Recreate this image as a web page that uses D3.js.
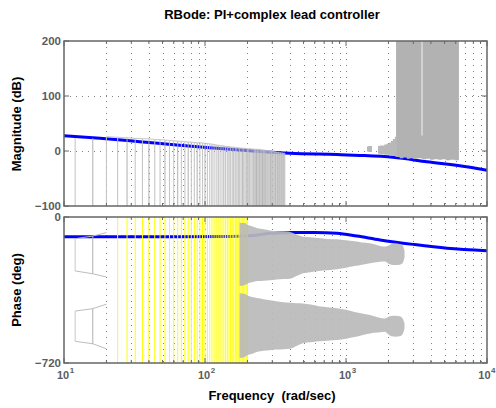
<!DOCTYPE html>
<html><head><meta charset="utf-8">
<script src="https://cdn.jsdelivr.net/npm/d3@7"></script>
<style>
body{margin:0;background:#fff}
svg{display:block}
text{font-family:"Liberation Sans",Arial,Helvetica,sans-serif;font-weight:bold}
</style>
</head><body>
<svg id="chart" width="496" height="408"></svg>
<script>
// ---------------- data ----------------
const titleText = "RBode: PI+complex lead controller";
const magTicks = [-100, 0, 100, 200];
const magGrid = [0, 100];
const phaseTicks = [-720, 0];
const decadeTicks = [10, 100, 1000, 10000];
const decadeExp = ["1", "2", "3", "4"];

// blue nominal response
const magFreq = [10, 18, 34.5, 63, 108, 208, 401, 863, 1256, 2154, 3749, 7570, 10000];
const magDb   = [27.8, 23.1, 16.9, 10.9, 6.0, 0.5, -4.2, -6.5, -8.0, -11.5, -19.5, -29.6, -35];
const phFreq  = [10, 66, 150, 200, 250, 289, 401, 600, 863, 1197, 1742, 2985, 5200, 10000];
const phDeg   = [-98, -97, -96, -93, -86, -80, -77, -76, -80, -94, -113, -135, -154, -166];

// grey (aliased) magnitude lines
const lineFreq = [12,16,20,24,28,32,36,40,44,48,52,56,60,64,68,72,76,80,84,88,92,96,100,104,108,112,116,120,124,128,132,136,140,144,148,152,156,160,164,168,172,176,180,184,188,192,196,200,204,208,212,216,220,224,228,232,236,240,244,248,252,256,260,264,268,272,276,280,284,288,292,296,300,304,308,312,316,320,324,328,332,336,340,344,348,352,356,360,364,368];
const lineTop  = [23,23,26,25,24,23,22.5,22,21,20.5,20,19,18.5,18,17.5,17,16.5,16,15.5,15,15,14.5,14,13.5,13,12.5,12,11,10.5,10,9.5,9,8.5,8,8,7.5,7,7,6.5,6,6,5.5,5.5,5,5,5,4.5,4.5,4,4,4,3.5,3.5,3.5,3,3,3,3,3,2.5,2.5,2,2,1.5,1.5,1,1,0.5,0.5,0,0,-0.5,-0.5,-1,-1,-1.5,-1.5,-2,-2,-2.5,-2.5,-3,-3,-3,-3.5,-3.5,-3.5,-4,-4,-4];

// high-frequency grey block (magnitude)
const hfFreq   = [2265,2400,2550,2700,2850,3000,3200,3460,3700,3950,4200,4500,4800,5100,5500,5900,6324];
const hfBottom = [-11,-13,-12,-14,-13,-14,-13,-15,-14,-16,-15,-16,-15,-17,-16,-17,-17];
const hfRagFreq = [1409,1440,1480,1528,1600,1687,1740,1800,1870,1940,2010,2080,2150,2220,2265];
const hfRagTop  = [8,9,9,8,null,9,10,10,12,13,15,18,22,26,27];
const hfRagBot  = [-1,-2,-2,-1,null,-5,-6,-6,-7,-7,-8,-8,-9,-10,-11];
const whiteFreq = [3460];
const whiteBottom = [28];

// grey phase outlines at low frequency
const trapFreq  = [12, 16, 20];
const trapUpTop = [-107, -94, -77];
const trapUpBot = [-266, -280, -296];
const trapLoTop = [-464, -452, -430];
const trapLoBot = [-613, -625, -650];

// grey phase bands
const bandFreq  = [176,192,199,215,235,260,289,320,360,401,450,495,560,640,740,863,1000,1150,1300,1479,1700,1890,2000,2100,2250,2400,2520,2600];
const upTop = [-28,-30,-38,-45,-55,-60,-66,-70,-72,-74,-88,-97,-100,-104,-108,-110,-115,-120,-126,-130,-140,-146,-140,-133,-131,-133,-140,-165];
const upBot = [-340,-335,-329,-322,-316,-314,-312,-308,-306,-304,-290,-278,-272,-266,-262,-258,-250,-242,-235,-228,-222,-220,-230,-235,-237,-235,-228,-200];
const loTop = [-376,-380,-386,-395,-400,-405,-411,-415,-420,-423,-425,-426,-432,-440,-445,-450,-458,-468,-476,-483,-495,-500,-492,-488,-487,-490,-500,-525];
const loBot = [-695,-690,-682,-675,-665,-660,-657,-654,-652,-650,-635,-623,-618,-613,-610,-607,-600,-592,-583,-574,-570,-566,-580,-588,-590,-588,-578,-550];

// ---------------- chart ----------------
const svg = d3.select("#chart");
const W = 496;
const L = 64, R = 487;
const magT = 41, magB = 206, phT = 217, phB = 363;
const x = d3.scaleLog().domain([10, 10000]).range([L, R]);
const yM = d3.scaleLinear().domain([-100, 200]).range([magB, magT]);
const yP = d3.scaleLinear().domain([-720, 0]).range([phB, phT]);

const defs = svg.append("defs");
defs.append("clipPath").attr("id", "clipM").append("rect")
  .attr("x", L).attr("y", magT).attr("width", R - L).attr("height", magB - magT);
defs.append("clipPath").attr("id", "clipP").append("rect")
  .attr("x", L).attr("y", phT).attr("width", R - L).attr("height", phB - phT);

const allTicks = x.ticks();
const gridCol = "#808080";
const axisCol = "#666";
const labCol = "#5c5c5c";

function panel(yScale, top, bottom, hGrid) {
  const g = svg.append("g");
  g.selectAll("line.vg").data(allTicks.filter(t => t > 10 && t < 10000)).join("line")
    .attr("x1", d => Math.round(x(d)) + 0.5).attr("x2", d => Math.round(x(d)) + 0.5)
    .attr("y1", top).attr("y2", bottom)
    .attr("stroke", gridCol).attr("stroke-width", 1).attr("stroke-dasharray", "1,5");
  g.selectAll("line.hg").data(hGrid).join("line")
    .attr("x1", L).attr("x2", R)
    .attr("y1", d => Math.round(yScale(d)) + 0.5).attr("y2", d => Math.round(yScale(d)) + 0.5)
    .attr("stroke", gridCol).attr("stroke-width", 1).attr("stroke-dasharray", "1,5");
  return g;
}

function frame(yScale, top, bottom, yTicks) {
  const g = svg.append("g");
  g.append("rect").attr("x", L).attr("y", top).attr("width", R - L).attr("height", bottom - top)
    .attr("fill", "none").attr("stroke", axisCol).attr("stroke-width", 1.5);
  const isMajor = d => decadeTicks.includes(d);
  g.selectAll("line.tt").data(allTicks).join("line")
    .attr("x1", d => x(d)).attr("x2", d => x(d))
    .attr("y1", top).attr("y2", d => top + (isMajor(d) ? 5 : 3))
    .attr("stroke", axisCol).attr("stroke-width", 1);
  g.selectAll("line.tb").data(allTicks).join("line")
    .attr("x1", d => x(d)).attr("x2", d => x(d))
    .attr("y1", bottom).attr("y2", d => bottom - (isMajor(d) ? 5 : 3))
    .attr("stroke", axisCol).attr("stroke-width", 1);
  g.selectAll("line.yl").data(yTicks).join("line")
    .attr("x1", L).attr("x2", L + 5).attr("y1", d => yScale(d)).attr("y2", d => yScale(d))
    .attr("stroke", axisCol).attr("stroke-width", 1);
  g.selectAll("line.yr").data(yTicks).join("line")
    .attr("x1", R).attr("x2", R - 5).attr("y1", d => yScale(d)).attr("y2", d => yScale(d))
    .attr("stroke", axisCol).attr("stroke-width", 1);
  g.selectAll("text.yt").data(yTicks).join("text")
    .attr("x", L - 3).attr("y", d => yScale(d) + 4)
    .attr("text-anchor", "end").attr("font-size", 11.5).attr("fill", labCol)
    .text(d => d < 0 ? "\u2212" + Math.abs(d) : d);
}

// ----- magnitude panel -----
panel(yM, magT, magB, magGrid);
const gm = svg.append("g").attr("clip-path", "url(#clipM)");
const magPts = magFreq.map((f, i) => [f, magDb[i]]);
gm.append("path").datum(magPts)
  .attr("d", d3.line().x(d => x(d[0])).y(d => yM(d[1])).curve(d3.curveMonotoneX))
  .attr("fill", "none").attr("stroke", "#0000ff").attr("stroke-width", 3);

const linePts = lineFreq.map((f, i) => [f, lineTop[i]]);
gm.append("g").attr("opacity", 0.9).selectAll("line").data(linePts).join("line")
  .attr("x1", d => x(d[0])).attr("x2", d => x(d[0]))
  .attr("y1", d => yM(d[1])).attr("y2", magB + 2)
  .attr("stroke", (d, i) => i % 3 === 1 ? "#b0b0b0" : "#c2c2c2").attr("stroke-width", 1.1);
gm.append("path").datum(linePts.slice(2))
  .attr("d", d3.line().x(d => x(d[0])).y(d => yM(d[1])))
  .attr("fill", "none").attr("stroke", "#c0c0c0").attr("stroke-width", 1).attr("opacity", 0.9);

const ragPts = hfRagFreq.map((f, i) => [f, hfRagTop[i], hfRagBot[i]]);
gm.append("path").datum(ragPts)
  .attr("d", d3.area().defined(d => d[1] !== null).x(d => x(d[0])).y0(d => yM(d[2])).y1(d => yM(d[1])).curve(d3.curveStepAfter))
  .attr("fill", "#b8b8b8");
const hfPts = hfFreq.map((f, i) => [f, hfBottom[i]]);
gm.append("path").datum(hfPts)
  .attr("d", d3.area().x(d => x(d[0])).y0(d => yM(d[1])).y1(magT - 2).curve(d3.curveStepAfter))
  .attr("fill", "#b2b2b2");
gm.selectAll("line.wl").data(whiteFreq.map((f, i) => [f, whiteBottom[i]])).join("line")
  .attr("x1", d => x(d[0])).attr("x2", d => x(d[0]))
  .attr("y1", magT).attr("y2", d => yM(d[1]))
  .attr("stroke", "#e6e6e6").attr("stroke-width", 1.2);
frame(yM, magT, magB, magTicks);

// ----- phase panel -----
panel(yP, phT, phB, []);
const gp = svg.append("g").attr("clip-path", "url(#clipP)");
const phPts = phFreq.map((f, i) => [f, phDeg[i]]);
gp.append("path").datum(phPts)
  .attr("d", d3.line().x(d => x(d[0])).y(d => yP(d[1])).curve(d3.curveMonotoneX))
  .attr("fill", "none").attr("stroke", "#0000ff").attr("stroke-width", 3);

const yellowFreq = lineFreq.filter(f => f >= 24 && f <= 200);
gp.selectAll("line.yl").data(yellowFreq).join("line")
  .attr("x1", d => x(d)).attr("x2", d => x(d))
  .attr("y1", phT).attr("y2", phB)
  .attr("stroke", "#ffff00").attr("stroke-width", 1);

const trapSets = [[trapUpTop, trapUpBot], [trapLoTop, trapLoBot]];
trapSets.forEach(([tp, bt]) => {
  const tpPts = trapFreq.map((f, i) => [f, tp[i]]);
  const btPts = trapFreq.map((f, i) => [f, bt[i]]);
  const ln = d3.line().x(d => x(d[0])).y(d => yP(d[1]));
  gp.append("path").datum(tpPts).attr("d", ln).attr("fill", "none").attr("stroke", "#bdbdbd").attr("stroke-width", 1);
  gp.append("path").datum(btPts).attr("d", ln).attr("fill", "none").attr("stroke", "#bdbdbd").attr("stroke-width", 1);
  gp.selectAll(null).data(trapFreq.slice(0, 2).map((f, i) => [f, tp[i], bt[i]])).join("line")
    .attr("x1", d => x(d[0])).attr("x2", d => x(d[0]))
    .attr("y1", d => yP(d[1])).attr("y2", d => yP(d[2]))
    .attr("stroke", (d, i) => i === 0 ? "#c8c8c8" : "#b0b0b0").attr("stroke-width", 1);
});

const bandSets = [[upTop, upBot], [loTop, loBot]];
bandSets.forEach(([tp, bt]) => {
  const pts = bandFreq.map((f, i) => [f, tp[i], bt[i]]);
  gp.append("path").datum(pts)
    .attr("d", d3.area().x(d => x(d[0])).y0(d => yP(d[2])).y1(d => yP(d[1])).curve(d3.curveMonotoneX))
    .attr("fill", "#bababa").attr("opacity", 0.92);
});
frame(yP, phT, phB, phaseTicks);

// ----- x tick labels -----
const xl = svg.append("g");
decadeTicks.forEach((d, i) => {
  const t = xl.append("text").attr("x", x(d) - 7).attr("y", 379)
    .attr("text-anchor", "start").attr("font-size", 11).attr("fill", labCol);
  t.append("tspan").text("10");
  t.append("tspan").attr("dy", -6).attr("dx", 0.5).attr("font-size", 8).text(decadeExp[i]);
  const w = t.node().getComputedTextLength();
  if (x(d) - 7 + w > W - 1) t.attr("x", W - 1 - w);
});

// ----- titles -----
svg.append("text").attr("x", 272).attr("y", 19).attr("text-anchor", "middle")
  .attr("font-size", 13).attr("fill", "#000").text(titleText);
svg.append("text").attr("transform", "translate(21,124) rotate(-90)")
  .attr("text-anchor", "middle").attr("font-size", 13).attr("fill", "#000").text("Magnitude (dB)");
svg.append("text").attr("transform", "translate(21,290) rotate(-90)")
  .attr("text-anchor", "middle").attr("font-size", 13).attr("fill", "#000").text("Phase (deg)");
svg.append("text").attr("x", 272).attr("y", 400).attr("text-anchor", "middle")
  .attr("font-size", 13).attr("fill", "#000").attr("xml:space", "preserve").text("Frequency  (rad/sec)");
</script>
</body></html>
